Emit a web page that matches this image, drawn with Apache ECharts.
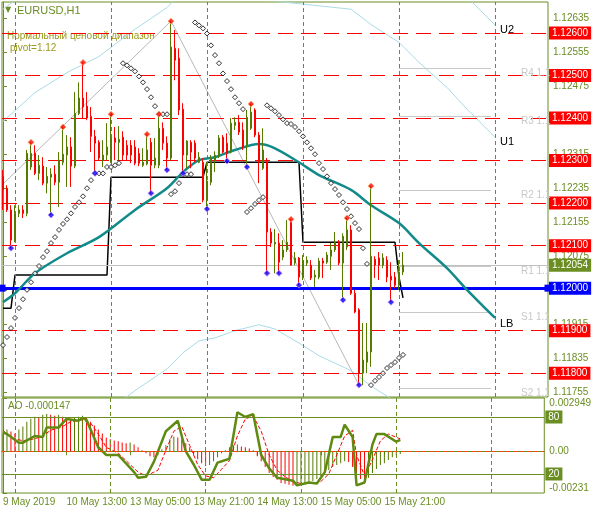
<!DOCTYPE html>
<html>
<head>
<meta charset="utf-8">
<script src="https://cdn.jsdelivr.net/npm/echarts@6/dist/echarts.min.js"></script>
<style>
  html, body { margin: 0; padding: 0; background: #fff; }
  #chart { width: 594px; height: 514px; }
</style>
</head>
<body>
<div id="chart"></div>
<script>
// time axis: one H1 bar per index, labels every 16 bars
const timeLabels = ['9 May 2019', '10 May 13:00', '13 May 05:00', '13 May 21:00', '14 May 13:00', '15 May 05:00', '15 May 21:00'];
const timeLabelIndex = [0, 16, 32, 48, 64, 80, 96];
const daySeparators = [3, 27, 51, 75, 99, 123];

// [open, close, low, high]
const candles = [
  [1.12263, 1.12231, 1.12184, 1.12278], [1.12235, 1.12184, 1.12179, 1.12242], [1.12184, 1.12113, 1.12094, 1.12195],
  [1.12111, 1.12176, 1.12108, 1.12195], [1.12176, 1.12184, 1.12167, 1.12195], [1.12184, 1.12176, 1.12165, 1.12195],
  [1.12176, 1.12317, 1.12169, 1.12325], [1.12285, 1.12317, 1.12278, 1.12343], [1.12317, 1.12270, 1.12266, 1.12336],
  [1.12270, 1.12289, 1.12254, 1.12313], [1.12287, 1.12247, 1.12242, 1.12308], [1.12247, 1.12263, 1.12223, 1.12285],
  [1.12261, 1.12268, 1.12172, 1.12282], [1.12268, 1.12249, 1.12242, 1.12289], [1.12249, 1.12301, 1.12191, 1.12320],
  [1.12296, 1.12315, 1.12289, 1.12379], [1.12313, 1.12332, 1.12238, 1.12360], [1.12332, 1.12287, 1.12238, 1.12355],
  [1.12287, 1.12411, 1.12282, 1.12461], [1.12411, 1.12447, 1.12407, 1.12484], [1.12447, 1.12426, 1.12400, 1.12531],
  [1.12428, 1.12400, 1.12395, 1.12461], [1.12404, 1.12357, 1.12320, 1.12426], [1.12357, 1.12341, 1.12270, 1.12372],
  [1.12343, 1.12306, 1.12301, 1.12348], [1.12301, 1.12313, 1.12285, 1.12348], [1.12313, 1.12332, 1.12301, 1.12388],
  [1.12296, 1.12353, 1.12294, 1.12409], [1.12353, 1.12343, 1.12301, 1.12379], [1.12343, 1.12350, 1.12301, 1.12381],
  [1.12355, 1.12313, 1.12301, 1.12369], [1.12336, 1.12313, 1.12301, 1.12348], [1.12336, 1.12313, 1.12294, 1.12348],
  [1.12332, 1.12294, 1.12289, 1.12348], [1.12317, 1.12294, 1.12287, 1.12329], [1.12289, 1.12296, 1.12285, 1.12329],
  [1.12292, 1.12325, 1.12289, 1.12362], [1.12343, 1.12289, 1.12223, 1.12353], [1.12289, 1.12306, 1.12282, 1.12353],
  [1.12289, 1.12376, 1.12282, 1.12409], [1.12376, 1.12341, 1.12325, 1.12390], [1.12341, 1.12306, 1.12278, 1.12357],
  [1.12306, 1.12567, 1.12301, 1.12628], [1.12564, 1.12536, 1.12489, 1.12607], [1.12541, 1.12419, 1.12407, 1.12564],
  [1.12421, 1.12313, 1.12270, 1.12435], [1.12313, 1.12346, 1.12282, 1.12348], [1.12343, 1.12320, 1.12282, 1.12348],
  [1.12341, 1.12306, 1.12296, 1.12348], [1.12296, 1.12308, 1.12294, 1.12320], [1.12296, 1.12207, 1.12202, 1.12306],
  [1.12207, 1.12252, 1.12186, 1.12296], [1.12249, 1.12306, 1.12242, 1.12313], [1.12301, 1.12313, 1.12273, 1.12322],
  [1.12313, 1.12353, 1.12306, 1.12360], [1.12355, 1.12320, 1.12317, 1.12360], [1.12341, 1.12317, 1.12299, 1.12364],
  [1.12320, 1.12388, 1.12317, 1.12400], [1.12383, 1.12390, 1.12372, 1.12402], [1.12390, 1.12367, 1.12360, 1.12407],
  [1.12372, 1.12332, 1.12325, 1.12390], [1.12336, 1.12402, 1.12285, 1.12419], [1.12376, 1.12414, 1.12372, 1.12433],
  [1.12419, 1.12360, 1.12355, 1.12423], [1.12360, 1.12296, 1.12247, 1.12367], [1.12282, 1.12325, 1.12278, 1.12376],
  [1.12301, 1.12132, 1.12035, 1.12306], [1.12132, 1.12106, 1.12097, 1.12141], [1.12104, 1.12108, 1.12035, 1.12139],
  [1.12106, 1.12061, 1.12035, 1.12129], [1.12073, 1.12090, 1.12066, 1.12113], [1.12090, 1.12108, 1.12085, 1.12160],
  [1.12155, 1.12054, 1.12054, 1.12162], [1.12059, 1.12071, 1.12054, 1.12085], [1.12071, 1.12026, 1.12007, 1.12073],
  [1.12026, 1.12064, 1.12019, 1.12078], [1.12059, 1.12066, 1.12052, 1.12075], [1.12054, 1.12024, 1.12019, 1.12066],
  [1.12026, 1.12031, 1.12003, 1.12043], [1.12026, 1.12064, 1.12021, 1.12071], [1.12064, 1.12059, 1.12024, 1.12071],
  [1.12061, 1.12078, 1.12057, 1.12085], [1.12075, 1.12090, 1.12043, 1.12106], [1.12090, 1.12108, 1.12085, 1.12132],
  [1.12108, 1.12059, 1.12054, 1.12113], [1.12059, 1.12122, 1.11972, 1.12129], [1.12097, 1.12137, 1.12090, 1.12165],
  [1.12137, 1.11988, 1.11984, 1.12148], [1.11988, 1.11944, 1.11941, 1.11996], [1.11949, 1.11800, 1.11772, 1.11953],
  [1.11800, 1.11831, 1.11772, 1.11918], [1.11826, 1.11850, 1.11800, 1.11918], [1.11850, 1.12075, 1.11815, 1.12240],
  [1.12068, 1.12054, 1.12024, 1.12075], [1.12071, 1.12054, 1.12019, 1.12085], [1.12054, 1.12071, 1.12047, 1.12082],
  [1.12066, 1.12026, 1.12014, 1.12075], [1.12028, 1.12019, 1.11967, 1.12061], [1.12026, 1.12007, 1.12000, 1.12038],
  [1.12007, 1.12038, 1.11996, 1.12066], [1.12038, 1.12054, 1.12031, 1.12085]
];
const upFractals = [7, 15, 20, 27, 36, 39, 42, 62, 72, 86, 92];
const downFractals = [2, 12, 23, 37, 41, 45, 51, 56, 61, 66, 69, 74, 85, 89, 97];

// parabolic SAR, one value per bar
const sar = [
  1.11866, 1.11885, 1.11906, 1.11930, 1.11953, 1.11974, 1.11996, 1.12014, 1.12035, 1.12052,
  1.12073, 1.12087, 1.12106, 1.12120, 1.12137, 1.12151, 1.12162, 1.12176, 1.12191, 1.12202,
  1.12216, 1.12235, 1.12254, 1.12270, 1.12270, 1.12270, 1.12285, 1.12285, 1.12289, 1.12294,
  1.12529, 1.12524, 1.12517, 1.12510, 1.12498, 1.12484, 1.12468, 1.12449, 1.12428, 1.12409,
  1.12409, 1.12409, 1.12221, 1.12228, 1.12247, 1.12268, 1.12268, 1.12268, 1.12625, 1.12618,
  1.12611, 1.12599, 1.12571, 1.12548, 1.12529, 1.12505, 1.12487, 1.12468, 1.12449, 1.12435,
  1.12421, 1.12179, 1.12188, 1.12198, 1.12207, 1.12214, 1.12430, 1.12423, 1.12416, 1.12407,
  1.12397, 1.12388, 1.12386, 1.12379, 1.12369, 1.12357, 1.12343, 1.12329, 1.12315, 1.12294,
  1.12280, 1.12263, 1.12247, 1.12233, 1.12219, 1.12202, 1.12186, 1.12169, 1.12153, 1.12139,
  1.12094, 1.12057, 1.11772, 1.11782, 1.11791, 1.11800, 1.11812, 1.11819, 1.11826, 1.11836,
  1.11843
];

// regression channel: [bar, price]
const maCenter = [[0, 1.11967], [3, 1.11988], [8, 1.12035], [16, 1.12082], [24, 1.12120], [33, 1.12184], [41, 1.12235],
  [45, 1.12273], [49, 1.12301], [53, 1.12308], [58, 1.12325], [64, 1.12339], [68, 1.12329], [74, 1.12296], [79, 1.12266],
  [87, 1.12231], [92, 1.12195], [99, 1.12153], [104, 1.12106], [111, 1.12047], [116, 1.11996], [123, 1.11930]];
const bandU1 = [[0, 1.12392], [8, 1.12460], [16, 1.12507], [24, 1.12545], [33, 1.12609], [41, 1.12660], [45, 1.12698],
  [87, 1.12656], [92, 1.12620], [99, 1.12578], [104, 1.12531], [111, 1.12472], [116, 1.12421], [123, 1.12355]];
const bandU2 = [[0, 1.12656], [3, 1.12677], [111, 1.12736], [116, 1.12685], [123, 1.12619]];
const bandL1 = [[24, 1.11695], [33, 1.11759], [41, 1.11810], [45, 1.11848], [49, 1.11876], [53, 1.11883], [58, 1.11900],
  [64, 1.11914], [68, 1.11904], [74, 1.11871], [79, 1.11841], [87, 1.11806], [92, 1.11770], [99, 1.11728]];
const bandNames = ['U2', 'U1', 'LB'];

const stairLine = [[0, 1.11953], [2, 1.11953], [3, 1.12031], [26, 1.12031], [27, 1.12261], [50, 1.12261], [51, 1.12296],
  [74, 1.12296], [75, 1.12108], [98, 1.12108], [99, 1.12026], [100, 1.11977]];
const zigzag = [[0, 1.12245], [42, 1.12628], [89, 1.11772]];

const levels = [1.126, 1.125, 1.124, 1.123, 1.122, 1.121, 1.119, 1.118];
const pivotLevel = 1.12;
const bidPrice = 1.12054;
const pivotNames = ['R4', 'R3', 'R2', 'R1', 'S1', 'S2'];
const pivotValues = [1.12517, 1.12404, 1.12231, 1.12052, 1.11944, 1.11765];
const priceTicks = [1.11755, 1.11835, 1.11915, 1.11995, 1.12075, 1.12155, 1.12235, 1.12315, 1.12395, 1.12475, 1.12555, 1.12635];

// Awesome Oscillator per bar
const ao = [
  0.00098, 0.00120, 0.00109, 0.00098, 0.00120, 0.00137, 0.00164, 0.00180, 0.00191, 0.00186,
  0.00202, 0.00207, 0.00202, 0.00197, 0.00202, 0.00191, 0.00186, 0.00180, 0.00186, 0.00191,
  0.00197, 0.00186, 0.00164, 0.00142, 0.00120, 0.00098, 0.00076, 0.00066, 0.00060, 0.00055,
  0.00049, 0.00044, 0.00049, 0.00038, 0.00022, 0.00005, -0.00011, -0.00027, -0.00033, -0.00022,
  0.00011, 0.00033, 0.00066, 0.00082, 0.00076, 0.00066, 0.00044, 0.00022, -0.00016, -0.00044,
  -0.00066, -0.00082, -0.00076, -0.00055, -0.00033, -0.00011, 0.00005, 0.00022, 0.00033, 0.00038,
  0.00027, 0.00022, 0.00016, 0.00005, -0.00027, -0.00055, -0.00087, -0.00120, -0.00142, -0.00158,
  -0.00175, -0.00180, -0.00186, -0.00191, -0.00186, -0.00180, -0.00175, -0.00169, -0.00164, -0.00153,
  -0.00137, -0.00120, -0.00104, -0.00087, -0.00076, -0.00066, -0.00055, -0.00060, -0.00087, -0.00120,
  -0.00153, -0.00164, -0.00147, -0.00120, -0.00098, -0.00076, -0.00066, -0.00049, -0.00033, -0.00022,
  -0.000147
];
const aoLabel = 'AO -0.000147';
const aoTicks = [-0.00231, 0, 0.002949];

// stochastic main / signal: [bar, value]
const stochMain = [[0, 64], [1, 62], [4, 53], [5, 53], [8, 60], [10, 59], [11, 69], [14, 69], [16, 78], [19, 76], [20, 79],
  [21, 77], [24, 48], [26, 40], [29, 40], [33, 22], [34, 16], [36, 17], [38, 33], [41, 65], [44, 76], [46, 44], [48, 30],
  [50, 14], [52, 14], [54, 32], [57, 36], [59, 85], [61, 80], [63, 83], [65, 40], [67, 26], [69, 16], [73, 13], [74, 8],
  [77, 11], [79, 10], [81, 22], [83, 59], [85, 59], [86, 72], [88, 59], [89, 8], [91, 11], [93, 51], [94, 62], [96, 62],
  [99, 54], [100, 56]];
const stochSignal = [[0, 66], [2, 58], [5, 55], [8, 57], [10, 60], [12, 66], [15, 70], [17, 75], [20, 77], [22, 74], [24, 62],
  [26, 48], [29, 42], [32, 30], [34, 22], [36, 18], [39, 24], [41, 45], [43, 65], [45, 70], [47, 50], [49, 30], [51, 18],
  [53, 16], [55, 25], [57, 34], [59, 60], [61, 78], [63, 81], [65, 65], [67, 40], [69, 24], [71, 17], [73, 12], [75, 10],
  [78, 10], [80, 12], [82, 20], [84, 40], [86, 60], [88, 66], [89, 40], [91, 18], [93, 35], [95, 55], [97, 62], [100, 57]];
const stochLevels = [80, 20];

const OLIVE = '#6b8e23';
const BULL = '#557a00';
const FONT = 'Liberation Sans';

const chart = echarts.init(document.getElementById('chart'), null, { renderer: 'canvas' });

const xRange = { min: -0.25, max: 136.25 };

function boxLabel(bg, fg) {
  return {
    show: true, position: 'end', distance: 1,
    backgroundColor: bg, color: fg, padding: [2, 3, 1, 3],
    fontFamily: FONT, fontSize: 10,
    formatter: (p) => p.value.toFixed(5),
  };
}

// empty line series that only carries a markLine (precision kept, default would round to 2 dp)
function markSeries(xi, yi, z, markLine) {
  return {
    type: 'line', xAxisIndex: xi, yAxisIndex: yi, data: [], silent: true, z,
    markLine: { silent: true, animation: false, precision: 6, ...markLine },
  };
}

const option = {
  animation: false,
  backgroundColor: '#fff',
  textStyle: { fontFamily: FONT },
  grid: [
    { left: 2, right: 46, top: 2, height: 395, show: true, borderColor: OLIVE, borderWidth: 1, backgroundColor: 'transparent' },
    { left: 2, right: 46, top: 398, height: 95, show: true, borderColor: OLIVE, borderWidth: 1, backgroundColor: 'transparent' },
  ],
  xAxis: [
    { type: 'value', gridIndex: 0, ...xRange, show: false },
    {
      type: 'value', gridIndex: 1, ...xRange,
      axisLine: { lineStyle: { color: OLIVE } },
      axisTick: { show: true, customValues: timeLabelIndex, length: 4, lineStyle: { color: OLIVE } },
      axisLabel: {
        customValues: timeLabelIndex, align: 'left', margin: 4,
        color: OLIVE, fontSize: 10, fontFamily: FONT,
        formatter: (v) => timeLabels[timeLabelIndex.indexOf(Math.round(v))] || '',
      },
      splitLine: { show: false },
    },
  ],
  yAxis: [
    {
      type: 'value', gridIndex: 0, position: 'right', min: 1.11744, max: 1.12673,
      axisLine: { show: true, lineStyle: { color: OLIVE } },
      axisTick: { show: true, customValues: priceTicks, length: 4, lineStyle: { color: OLIVE } },
      axisLabel: { customValues: priceTicks, color: OLIVE, fontSize: 10, fontFamily: FONT, margin: 5, formatter: (v) => v.toFixed(5) },
      splitLine: { show: false },
    },
    {
      type: 'value', gridIndex: 1, position: 'right', min: -0.00231, max: 0.002949,
      axisLine: { show: true, lineStyle: { color: OLIVE } },
      axisTick: { show: true, customValues: aoTicks, length: 4, lineStyle: { color: OLIVE } },
      axisLabel: {
        customValues: aoTicks, color: OLIVE, fontSize: 10, fontFamily: FONT, margin: 5,
        verticalAlignMaxLabel: 'top', verticalAlignMinLabel: 'bottom',
        formatter: (v) => (v === 0 ? '0.00' : String(v)),
      },
      splitLine: { show: false },
    },
    { type: 'value', gridIndex: 1, min: 0, max: 100, show: false },
  ],
  graphic: [
    { type: 'text', left: 5, top: 6, style: { text: '▼', fill: OLIVE, font: '8px DejaVu Sans' } },
    { type: 'text', left: 17, top: 5, style: { text: 'EURUSD,H1', fill: OLIVE, font: '11px ' + FONT } },
    { type: 'text', left: 7, top: 31, style: { text: 'Нормальный ценовой диапазон', fill: '#9a9a1e', font: '10px ' + FONT } },
    { type: 'text', left: 10, top: 43, style: { text: 'pivot=' + pivotLevel.toFixed(2), fill: '#9a9a1e', font: '10px ' + FONT } },
    { type: 'text', left: 8, top: 401, style: { text: aoLabel, fill: OLIVE, font: '10px ' + FONT } },
  ],
  series: [
    // channel bands
    ...[bandU2, bandU1].map((band, k) => ({
      type: 'line', xAxisIndex: 0, yAxisIndex: 0, data: band, symbol: 'none', silent: true,
      lineStyle: { color: '#a9dbe6', width: 1 }, z: 1,
      endLabel: { show: true, formatter: bandNames[k], color: '#000', fontSize: 11, fontFamily: FONT, distance: 5, offset: [0, 5] },
    })),
    { type: 'line', xAxisIndex: 0, yAxisIndex: 0, data: bandL1, symbol: 'none', silent: true, lineStyle: { color: '#a9dbe6', width: 1 }, z: 1 },
    // zigzag
    { type: 'line', xAxisIndex: 0, yAxisIndex: 0, data: zigzag, symbol: 'none', silent: true, lineStyle: { color: '#b8b8b8', width: 1 }, z: 1 },
    // day separators
    markSeries(0, 0, 2, {
      symbol: 'none',
      data: daySeparators.map((x) => ({ xAxis: x })),
      lineStyle: { color: OLIVE, type: [4, 3], width: 1 }, label: { show: false },
    }),
    // red price levels
    markSeries(0, 0, 2, {
      symbol: 'none',
      data: levels.map((v) => ({ yAxis: v })),
      lineStyle: { color: '#ff0000', type: [15, 8], width: 1 }, label: boxLabel('#ff0000', '#fff'),
    }),
    // bid line
    markSeries(0, 0, 2, {
      symbol: 'none',
      data: [{ yAxis: bidPrice }],
      lineStyle: { color: '#c0c0c0', type: 'solid', width: 1 }, label: boxLabel(OLIVE, '#fff'),
    }),
    // pivot segments
    markSeries(0, 0, 2, {
      symbol: 'none',
      data: pivotNames.map((n, k) => [
        { coord: [99, pivotValues[k]], name: n + ' ' + pivotValues[k].toFixed(5).slice(0, 3) },
        { coord: [122, pivotValues[k]] },
      ]),
      lineStyle: { color: '#c8c8c8', type: 'solid', width: 1 },
      label: { show: true, position: 'end', distance: 30, verticalAlign: 'top', color: '#c8c8c8', fontSize: 10, fontFamily: FONT, formatter: '{b}' },
    }),
    // pivot line 1.12
    markSeries(0, 0, 4, {
      symbol: ['rect', 'rect'], symbolSize: 7,
      data: [{ yAxis: pivotLevel }],
      lineStyle: { color: '#0000ff', type: 'solid', width: 3 }, label: boxLabel('#0000ff', '#fff'),
    }),
    // stair line
    { type: 'line', xAxisIndex: 0, yAxisIndex: 0, data: stairLine, symbol: 'none', silent: true, lineStyle: { color: '#000', width: 1.5 }, z: 3 },
    // regression centre
    {
      type: 'line', xAxisIndex: 0, yAxisIndex: 0, data: maCenter, symbol: 'none', silent: true, smooth: 0.3,
      lineStyle: { color: '#138a8a', width: 2.5 }, z: 5,
      endLabel: { show: true, formatter: bandNames[2], color: '#000', fontSize: 11, fontFamily: FONT, distance: 5, offset: [0, 6] },
    },
    // candles
    {
      type: 'candlestick', xAxisIndex: 0, yAxisIndex: 0, barWidth: 2, z: 6,
      data: candles.map((c, i) => [i, ...c]),
      encode: { x: 0, y: [1, 2, 3, 4] },
      itemStyle: { color: BULL, color0: '#ff0000', borderColor: BULL, borderColor0: '#ff0000', borderWidth: 1 },
    },
    // parabolic SAR
    {
      type: 'scatter', xAxisIndex: 0, yAxisIndex: 0, symbol: 'diamond', symbolSize: 5, z: 7,
      data: sar.map((v, i) => [i, v]),
      itemStyle: { color: '#fff', borderColor: '#000', borderWidth: 1 },
    },
    // fractals
    {
      type: 'scatter', xAxisIndex: 0, yAxisIndex: 0, symbol: 'diamond', symbolSize: 6, z: 8,
      data: upFractals.map((i) => [i, candles[i][3]]),
      itemStyle: { color: '#ff0000', borderColor: '#ffa060', borderWidth: 1 },
    },
    {
      type: 'scatter', xAxisIndex: 0, yAxisIndex: 0, symbol: 'diamond', symbolSize: 6, z: 8,
      data: downFractals.map((i) => [i, candles[i][2]]),
      itemStyle: { color: '#0000ff', borderColor: '#c080ff', borderWidth: 1 },
    },
    // AO histogram
    {
      type: 'bar', xAxisIndex: 1, yAxisIndex: 1, barWidth: 1, z: 2,
      data: ao.map((v, i) => [i, v]),
      itemStyle: { color: (p) => (p.dataIndex > 0 && ao[p.dataIndex] < ao[p.dataIndex - 1] ? '#ff0000' : BULL) },
    },
    markSeries(1, 1, 2, {
      symbol: 'none',
      data: [{ yAxis: 0 }],
      lineStyle: { color: '#ff4500', type: [4, 3], width: 1 }, label: { show: false },
    }),
    markSeries(1, 1, 2, {
      symbol: 'none',
      data: daySeparators.map((x) => ({ xAxis: x })),
      lineStyle: { color: OLIVE, type: [4, 3], width: 1 }, label: { show: false },
    }),
    // stochastic
    {
      type: 'line', xAxisIndex: 1, yAxisIndex: 2, data: stochSignal, symbol: 'none', silent: true, z: 3,
      lineStyle: { color: '#ff0000', width: 1, type: [4, 2] },
    },
    {
      type: 'line', xAxisIndex: 1, yAxisIndex: 2, data: stochMain, symbol: 'none', silent: true, z: 4,
      lineStyle: { color: '#5f8a10', width: 2.5 },
    },
    markSeries(1, 2, 4, {
      symbol: 'none',
      data: stochLevels.map((v) => ({ yAxis: v })),
      lineStyle: { color: OLIVE, type: 'solid', width: 1 },
      label: { show: true, position: 'end', distance: 1, backgroundColor: OLIVE, color: '#fff', padding: [2, 3, 1, 3], fontSize: 10, fontFamily: FONT, formatter: (p) => String(p.value) },
    }),
  ],
};

chart.setOption(option);
</script>
</body>
</html>
